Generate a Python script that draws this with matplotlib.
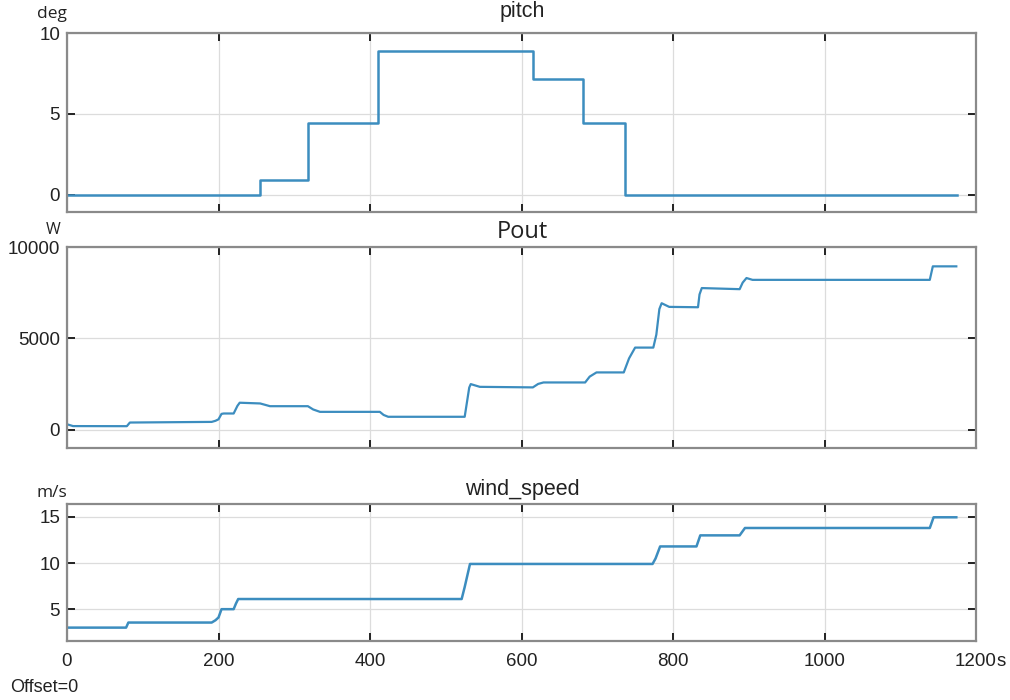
import matplotlib
matplotlib.use("Agg")
import matplotlib.pyplot as plt

# ---------------- data ----------------
pitch_t = [0, 255, 318, 411, 615, 681, 737, 1175]
pitch_v = [0, 0.9, 4.45, 8.9, 7.15, 4.45, 0, 0]

pout_t = [0, 8, 79, 83, 191, 196, 200, 204, 207, 220, 225, 228, 255, 268, 318, 325,
          334, 413, 418, 424, 525, 528, 531, 533, 545, 615, 622, 629, 684, 690, 699,
          735, 742, 750, 774, 778, 782, 785, 795, 833, 835, 838, 888, 892, 897, 905,
          1139, 1143, 1174]
pout_v = [290, 190, 185, 385, 420, 480, 560, 860, 880, 880, 1300, 1470, 1430, 1280, 1280, 1100,
          970, 970, 800, 700, 700, 1500, 2300, 2490, 2340, 2310, 2500, 2580, 2580, 2900, 3130,
          3130, 3900, 4490, 4490, 5200, 6600, 6920, 6720, 6700, 7400, 7750, 7690, 8050, 8300, 8200,
          8200, 8940, 8940]

wind_t = [0, 78, 81, 191, 196, 200, 204, 220, 223, 226, 521, 525, 532, 773, 777, 783,
          831, 836, 888, 895, 1139, 1144, 1174]
wind_v = [3.0, 3.0, 3.55, 3.55, 3.8, 4.1, 5.0, 5.0, 5.6, 6.1, 6.1, 7.4, 9.9, 9.9, 10.5, 11.8,
          11.8, 13.0, 13.0, 13.8, 13.8, 14.96, 14.96]

titles = ["pitch", "Pout", "wind_speed"]
units = ["deg", "W", "m/s"]
x_ticks = [0, 200, 400, 600, 800, 1000, 1200]
pitch_ticks = [0, 5, 10]
pout_ticks = [0, 5000, 10000]
wind_ticks = [5, 10, 15]

# ---------------- style ----------------
LINE = "#3c8dbf"
FRAME = "#8a8a8a"
GRID = "#dcdcdc"
FONT = ["Liberation Sans", "DejaVu Sans"]
plt.rcParams["font.family"] = FONT

fig = plt.figure(figsize=(10.1, 7.0), dpi=100)
fig.patch.set_facecolor("white")

W, H = 1010, 700
L, R = 67, 976
boxes = [(33, 212), (247, 448), (504, 641)]

def mk(top, bot):
    return fig.add_axes([L / W, 1 - bot / H, (R - L) / W, (bot - top) / H])

axes = [mk(*b) for b in boxes]

axes[0].plot(pitch_t, pitch_v, color=LINE, lw=1.8, drawstyle="steps-post")
axes[1].plot(pout_t, pout_v, color=LINE, lw=1.6)
axes[2].plot(wind_t, wind_v, color=LINE, lw=1.8)

axes[0].set_ylim(-1.05, 10)
axes[1].set_ylim(-1010, 10000)
axes[2].set_ylim(1.55, 16.4)
axes[0].set_yticks(pitch_ticks)
axes[1].set_yticks(pout_ticks)
axes[2].set_yticks(wind_ticks)

for i, ax in enumerate(axes):
    ax.set_xlim(0, 1200)
    ax.set_xticks(x_ticks)
    ax.grid(True, color=GRID, lw=0.9)
    ax.set_axisbelow(True)
    for s in ax.spines.values():
        s.set_color(FRAME)
        s.set_linewidth(1.6)
    ax.tick_params(direction="in", length=6, width=1.4, color="#222222",
                   top=True, right=True, labelsize=13.5, labelcolor="#222222", pad=5)
    if i < 2:
        ax.tick_params(labelbottom=False)
    else:
        ax.tick_params(axis="x", pad=9)
        ax.set_xticklabels(["0", "200", "400", "600", "800", "1000", "1200"])

fig.text(997 / W, 1 - 661 / H, "s", fontsize=13.5, color="#222222", ha="left", va="center")

# titles
title_y = [12, 232, 490]
title_fs = [15.5, 17, 15.5]
title_fam = [FONT, ["Open Sans", "DejaVu Sans"], FONT]
for t, y, fs, fam in zip(titles, title_y, title_fs, title_fam):
    fig.text(522 / W, 1 - y / H, t, fontsize=fs, family=fam, color="#222222",
             ha="center", va="center")

# units
unit_pos = [(52, 14), (53, 230), (52, 493)]
unit_fs = [12.5, 11.5, 12.5]
for u, (x, y), fs in zip(units, unit_pos, unit_fs):
    fig.text(x / W, 1 - y / H, u, fontsize=fs, family=["Open Sans", "DejaVu Sans"],
             color="#222222", ha="center", va="center")

fig.text(10 / W, 1 - 688 / H, "Offset=0", fontsize=13, color="#222222",
         ha="left", va="center")

fig.savefig("out.png", dpi=100, facecolor="white")
